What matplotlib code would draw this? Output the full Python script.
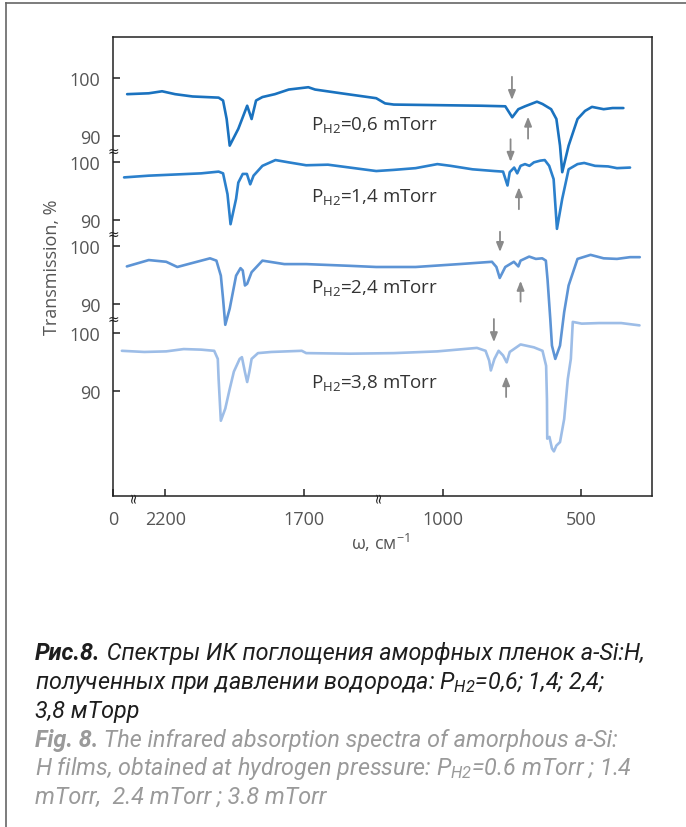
import numpy as np
import matplotlib
matplotlib.use("Agg")
import matplotlib.pyplot as plt
from matplotlib.lines import Line2D

# IR spectra, wavenumber (cm^-1) vs transmission (%)
w1 = [2338, 2260, 2212, 2165, 2102, 2055, 2008, 1992, 1979, 1968, 1937, 1905, 1889, 1873, 1850,
      1805, 1755, 1678, 1644, 1512, 1335, 1290, 1246, 1026, 861, 774, 749, 727, 703, 660, 640,
      609, 590, 577, 569, 546, 514, 487, 462, 420, 388, 349]
t1 = [97.2, 97.35, 97.7, 97.2, 96.8, 96.7, 96.6, 96.1, 92.9, 88.3, 91.2, 95.2, 92.9, 96.1, 96.7,
      97.2, 98.0, 98.4, 98.0, 97.35, 96.5, 95.6, 95.4, 95.3, 95.2, 95.1, 93.2, 94.6, 95.1, 95.9, 95.5,
      94.6, 92.9, 88.3, 83.7, 88.3, 92.9, 94.3, 95.0, 94.6, 94.8, 94.8]

w2 = [2349, 2260, 2165, 2071, 2008, 1992, 1976, 1965, 1945, 1937, 1921, 1906, 1894, 1882, 1850,
      1803, 1755, 1689, 1579, 1468, 1335, 1246, 1136, 1026, 971, 892, 813, 782, 766, 758, 742,
      731, 719, 703, 687, 671, 648, 632, 616, 600, 588, 569, 546, 514, 490, 451, 404, 372, 325]
t2 = [97.4, 97.7, 97.9, 98.1, 98.4, 98.1, 94.5, 89.3, 93.7, 96.5, 98.0, 98.0, 96.2, 97.7, 99.4,
      100.4, 100.0, 99.5, 99.6, 99.1, 98.5, 98.7, 99.0, 99.7, 99.4, 98.8, 98.5, 98.4, 96.0, 98.3, 99.1,
      98.1, 99.4, 99.7, 99.4, 100.0, 100.3, 100.4, 99.4, 97.1, 88.5, 93.7, 98.8, 99.7, 99.9, 99.4,
      99.3, 99.0, 99.1]

w3 = [2339, 2260, 2197, 2157, 2118, 2039, 2016, 2000, 1992, 1984, 1968, 1945, 1929, 1921, 1913,
      1905, 1889, 1850, 1771, 1689, 1468, 1335, 1136, 940, 822, 806, 794, 774, 743, 727, 719,
      688, 664, 641, 628, 622, 612, 606, 594, 577, 562, 546, 514, 467, 420, 372, 325, 290]
t3 = [96.5, 97.6, 97.3, 96.4, 96.9, 97.9, 97.5, 94.9, 90.9, 86.4, 89.2, 94.9, 96.2, 95.8, 93.2,
      93.5, 95.5, 97.5, 96.9, 96.9, 96.6, 96.4, 96.4, 96.9, 97.3, 96.4, 94.5, 96.4, 97.3, 96.5, 97.5,
      98.2, 97.8, 97.9, 97.5, 94.3, 87.4, 82.8, 80.5, 82.8, 88.6, 93.2, 97.8, 98.5, 97.9, 97.8,
      98.1, 98.1]

w4 = [2357, 2276, 2197, 2134, 2071, 2024, 2011, 2008, 2000, 1984, 1968, 1953, 1932, 1924, 1913,
      1905, 1897, 1889, 1866, 1818, 1708, 1689, 1468, 1246, 1026, 924, 876, 845, 832, 826, 813,
      798, 782, 769, 758, 719, 671, 640, 627, 624, 623, 615, 606, 599, 590, 577, 562, 549, 538,
      531, 499, 436, 357, 291]
t4 = [96.9, 96.7, 96.8, 97.2, 97.1, 96.9, 95.5, 92.0, 84.8, 86.9, 90.3, 93.3, 95.5, 95.8, 93.2,
      91.5, 93.3, 95.5, 96.5, 96.7, 96.9, 96.5, 96.4, 96.5, 96.8, 97.2, 97.4, 96.9, 95.2, 93.5, 95.5,
      96.9, 96.1, 94.9, 96.7, 98.0, 97.5, 96.9, 94.3, 88.5, 81.7, 82.0, 80.0, 79.5, 80.5, 81.1,
      85.1, 92.0, 95.5, 101.9, 101.6, 101.7, 101.7, 101.3]

series_w = [w1, w2, w3, w4]
series_t = [t1, t2, t3, t4]
pressures = ["0,6", "1,4", "2,4", "3,8"]
offsets = [0, -14.6, -29.1, -44.1]
colors = ["#1a72bf", "#2b80cc", "#5d94d5", "#9dbde7"]

# marker arrows: (wavenumber, tail, head) in each curve's own transmission
down_arrows = [(750, 100.2, 96.2), (755, 104.0, 100.1), (793, 102.5, 99.0), (815, 102.4, 98.4)]
up_arrows = [(692, 89.5, 93.3), (725, 91.9, 95.7), (719, 90.4, 94.0), (771, 88.9, 92.5)]
label_y = [92.0, 94.2, 93.0, 91.5]

xticks = [2200, 1700, 1000, 500]

# broken x axis: wavenumber -> position along the axis
knot_w = np.array([2389, 2200, 1700, 1000, 500, 246])
knot_p = np.array([0, 52.4, 191, 329.5, 468.4, 539])


def fwd(w):
    return np.interp(-np.asarray(w, float), -knot_w, knot_p)


def inv(p):
    return -np.interp(np.asarray(p, float), knot_p, -knot_w)


plt.rcParams["font.family"] = ["Open Sans", "DejaVu Sans"]
plt.rcParams["mathtext.default"] = "regular"

W, H = 686, 828
fig = plt.figure(figsize=(W / 100, H / 100), dpi=100)
ax = fig.add_axes([113 / W, 1 - 497 / H, 539 / W, 459 / H])
ax.set_xscale("function", functions=(fwd, inv))
# fwd is decreasing, so give the limits low-high to keep 2200 on the left
ax.set_xlim(knot_w[-1], knot_w[0])
ax.set_ylim(27.68, 107.09)

for w, t, off, c in zip(series_w, series_t, offsets, colors):
    ax.plot(w, np.array(t) + off, color=c, lw=1.9, solid_joinstyle="round", solid_capstyle="round")

for p, off, ly in zip(pressures, offsets, label_y):
    ax.text(1667, ly + off, "P$_{H2}$=" + p + " mTorr", fontsize=13.5, color="#333333",
            ha="left", va="center")

arrow_kw = dict(arrowstyle="-|>,head_length=0.55,head_width=0.22", color="#8a8a8a", lw=1.3,
                shrinkA=0, shrinkB=0)
for (x, a, b), off in zip(down_arrows, offsets):
    ax.annotate("", xy=(x, b + off), xytext=(x, a + off), arrowprops=arrow_kw)
for (x, a, b), off in zip(up_arrows, offsets):
    ax.annotate("", xy=(x, b + off), xytext=(x, a + off), arrowprops=arrow_kw)

# y ticks: 100 and 90 for every curve
yt, yl = [], []
for off in offsets:
    yt += [100 + off, 90 + off]
    yl += ["100", "90"]
ax.set_yticks(yt)
ax.set_yticklabels(yl)
ax.set_xticks([knot_w[0]] + xticks)
ax.set_xticklabels(["0"] + [str(v) for v in xticks])
ax.minorticks_off()
ax.tick_params(direction="in", length=5, width=1.1, color="#222222", labelsize=13,
               labelcolor="#555555")
ax.tick_params(axis="y", pad=9)
ax.tick_params(axis="x", pad=10)
for s in ax.spines.values():
    s.set_linewidth(1.1)
    s.set_color("#222222")

# axis break marks
for yb in [87.37, 73.0, 58.3]:
    ax.text(0, yb, "≈", transform=ax.get_yaxis_transform(), fontsize=10, ha="center",
            va="center", color="#222222", family="DejaVu Sans")
for xb in [2317, 1326]:
    ax.text(xb, 0, "≈", transform=ax.get_xaxis_transform(), fontsize=10, ha="center",
            va="center", color="#222222", rotation=90, family="DejaVu Sans")

fig.text(52 / W, 1 - 267 / H, "Transmission, %", rotation=90, fontsize=13, color="#555555",
         ha="center", va="center")
fig.text(381 / W, 1 - 543 / H, "ω, см$^{-1}$", fontsize=13, color="#555555",
         ha="center", va="center")

# frame lines of the page
fig.add_artist(Line2D([6 / W, 1], [1 - 4 / H, 1 - 4 / H], color="#666666", lw=1.2))
fig.add_artist(Line2D([6 / W, 6 / W], [0, 1 - 4 / H], color="#666666", lw=1.2))

# caption
cap_font = ["Roboto", "DejaVu Sans"]
renderer = fig.canvas.get_renderer()


def cap_line(parts, y, color, size=16.8):
    x = 35
    for txt, bold in parts:
        t = fig.text(x / W, 1 - y / H, txt, fontsize=size, color=color, style="italic",
                     weight="bold" if bold else "normal", family=cap_font,
                     ha="left", va="baseline")
        x += t.get_window_extent(renderer).width
    return x


ru = "#1e1e1e"
en = "#9a9a9a"
cap_line([("Рис.8.", True), (" Спектры ИК поглощения аморфных пленок a-Si:H,", False)], 660, ru)
cap_line([("полученных при давлении водорода: P$_{H2}$=0,6; 1,4; 2,4;", False)], 689, ru)
cap_line([("3,8 мТорр", False)], 718, ru)
cap_line([("Fig. 8.", True), (" The infrared absorption spectra of amorphous a-Si:", False)], 747, en)
cap_line([("H films, obtained at hydrogen pressure: P$_{H2}$=0.6 mTorr ; 1.4", False)], 775, en)
cap_line([("mTorr,  2.4 mTorr ; 3.8 mTorr", False)], 804, en)

fig.savefig("out.png", dpi=100)
